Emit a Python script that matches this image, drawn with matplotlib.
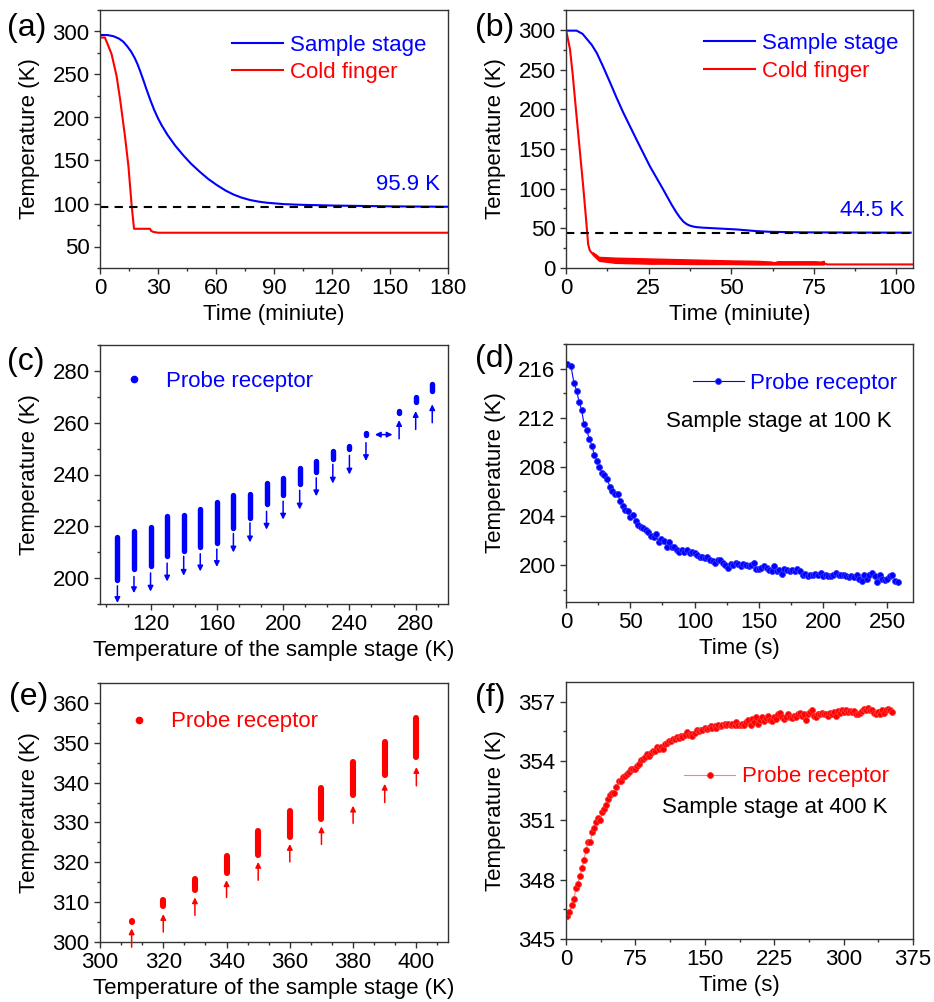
import matplotlib
matplotlib.use("Agg")
import matplotlib.pyplot as plt
from matplotlib.ticker import MultipleLocator
from matplotlib.lines import Line2D

plt.rcParams['font.family'] = ['Liberation Sans', 'DejaVu Sans']

BLUE = '#0000FF'
RED = '#FF0000'

# ---------------- data ----------------
# (a)
a_stage_t = [0, 4, 7, 10, 12.1, 14, 16, 18, 19.5, 21, 22.5, 24, 26, 28, 30, 32, 35, 39, 43.1, 47, 51.8, 56,
             60.4, 65, 69, 73, 77.7, 82, 86.3, 95, 103.6, 120.8, 150, 180]
a_stage_T = [296, 295.8, 294.5, 291.5, 288, 283, 277, 269, 261.5, 252.5, 243, 233, 220.5, 209, 199, 190.5, 179.5, 167,
             156, 146.5, 136.5, 128.5, 121.5, 115, 110.5, 107, 104, 102.2, 100.9, 99.3, 98.5, 97.6, 96.7, 96.2]
a_cold_t = [0, 2.5, 4, 6, 8.6, 10.4, 12.9, 14.7, 16.4, 17.6, 25.9, 26.5, 27.6, 30, 180]
a_cold_T = [293, 293, 285, 273.6, 248, 221, 178.5, 143.6, 97, 70.6, 70.6, 68, 67, 66, 66]
a_final = 95.9

# (b)
b_stage_t = [0, 3.2, 5, 6.2, 7.8, 9.3, 11.3, 13.3, 15.3, 17.3, 21.3, 25.4, 29.4, 32, 33.4, 34.5, 35.5, 36.5, 37.4,
             38.5, 39.5, 41.4, 46, 51.5, 57.5, 61.6, 71.6, 85, 104.3]
b_stage_T = [299, 299, 295, 289, 281, 271, 253, 234, 214.5, 196, 162, 128, 99, 79.5, 70, 63.5, 58.5, 55.3, 53.5,
             52.2, 51.5, 50.8, 49.8, 48.6, 46.5, 45.6, 44.9, 44.7, 44.5]
b_cold_t = [0, 1.2, 2.0, 3.2, 4.2, 5.2, 6.0, 6.7, 7.2, 8.0, 9.0, 10.0, 15, 25, 40, 50, 60, 70, 78, 79, 105]
b_cold_T = [300, 276, 245, 191, 147, 103, 65, 30, 22, 18, 16, 12, 9.5, 9, 8, 7, 6.5, 6, 6, 4.5, 4.5]
b_band_t = [8, 10, 15, 20, 25, 30, 40, 50, 58, 60, 62, 63, 64, 70, 75, 77, 78]
b_band_hi = [20, 14, 13, 12.5, 12, 11.5, 10.5, 9.5, 9, 8.5, 8, 7, 8.5, 8.5, 8.5, 8, 9]
b_band_lo = [17, 9, 6.5, 6, 5.5, 5.5, 5, 5, 4.5, 4.5, 4.5, 4.5, 4.5, 4.5, 4.5, 4.5, 4.5]
b_final = 44.5

# (c)
c_stage = [100, 110, 120, 130, 140, 150, 160, 170, 180, 190, 200, 210, 220, 230, 240, 250, 260, 270, 280, 290]
c_low = [199.1, 203.6, 204.5, 208.4, 210.4, 212.0, 213.5, 219.5, 223.3, 228.5, 232.0, 236.5,
         241.0, 245.8, 250.0, 255.2, 259.7, 263.8, 268.1, 272.2]
c_high = [215.8, 218.1, 219.6, 223.9, 224.4, 226.7, 229.3, 231.9, 232.5, 236.8, 238.6, 242.5,
          245.1, 248.9, 250.9, 256.2, 259.7, 264.4, 270.0, 275.1]
c_arrow_x = [100, 110, 120, 130, 140, 150, 160, 170, 180, 190, 200, 210, 220, 230, 240, 250, 270, 280, 290]
c_arrow_from = [197, 200.6, 202, 205.8, 208.4, 209.4, 211.2, 217.2, 221.3, 225.8, 229.7, 233.9,
                238.7, 243.9, 247.4, 252.3, 253.8, 257.4, 260]
c_arrow_to = [190.4, 194.2, 194.8, 198.7, 200.9, 202.6, 204.3, 209.9, 213.8, 218.7, 222.6, 226.5,
              231.6, 236.5, 240, 245.2, 261, 264.5, 267.1]
c_harrow_x = [255.4, 266.0]
c_harrow_y = 255.4

# (d)
d_t = [1, 3.9, 6.2, 8.3, 10.1, 12.2, 14, 16, 18.1, 20.2, 22, 24.1, 25.9, 28, 29.8, 31.9, 34.2, 36, 38.1, 40.2,
       42, 44, 46.1, 48, 50, 52.1, 54.1, 56, 58, 60.1, 62.2, 64, 66, 68.1, 70, 72, 74.1, 76.2, 78.2, 80,
       82.1, 84.2, 86, 88, 90.2, 92.2, 94, 96.1, 98.2, 100.3, 102, 104.1, 106.2, 108, 110.1, 112.2, 114.2, 116.1, 118.1, 120.2,
       122.3, 124.1, 126.2, 128.2, 130, 132.1, 134.2, 136.3, 138.1, 140.2, 142.2, 144.3, 146.1, 148.2, 150.3, 152.1, 154.1, 156.2, 158, 160.1,
       161.9, 164, 166.1, 168.1, 170, 172, 174.1, 176.2, 178, 180, 182.1, 184.2, 186, 188.1, 190.2, 192.2, 194, 196.1, 198.2, 200,
       202.1, 204.1, 206.2, 208, 210.1, 212.2, 214, 216, 218.1, 220.2, 222, 224.1, 226.2, 228, 230, 232.1, 233.9, 236, 238.1, 240.2,
       242, 244, 246.1, 248, 250, 252.1, 253.9, 256, 258]
d_T = [216.4, 216.2, 214.8, 214.2, 213.3, 212.6, 211.5, 211.0, 210.3, 209.7, 209.0, 208.5, 208.0, 207.5, 207.3, 207.0, 206.4, 206.0, 205.8, 205.8,
       205.2, 204.8, 204.5, 204.4, 203.9, 204.1, 203.6, 203.3, 203.1, 203.0, 202.9, 202.7, 202.4, 202.3, 202.5, 201.9, 202.1, 202.0, 201.5, 201.9,
       201.5, 201.5, 201.2, 201.1, 201.2, 201.1, 201.2, 201.0, 201.1, 201.0, 200.8, 200.7, 200.7, 200.6, 200.7, 200.4, 200.3, 200.2, 200.4, 200.4,
       200.2, 200.0, 199.8, 200.1, 200.0, 200.2, 200.1, 199.9, 200.1, 200.0, 199.9, 200.0, 200.2, 199.7, 199.7, 199.8, 199.9, 199.8, 199.6, 199.5,
       199.9, 199.5, 199.6, 199.3, 199.7, 199.6, 199.5, 199.6, 199.5, 199.7, 199.5, 199.2, 199.3, 199.1, 199.2, 199.2, 199.3, 199.2, 199.4, 199.1,
       199.2, 199.1, 199.1, 199.2, 199.4, 199.2, 199.2, 199.2, 199.1, 199.0, 199.1, 199.0, 199.2, 198.9, 198.7, 199.2, 198.9, 199.2, 199.4, 199.1,
       198.6, 199.2, 198.9, 198.8, 198.9, 199.1, 199.2, 198.7, 198.6]

# (e)
e_stage = [310, 320, 330, 340, 350, 360, 370, 380, 390, 400]
e_low = [304.95, 309.15, 313.15, 317.35, 321.75, 326.35, 330.95, 336.85, 341.85, 346.45]
e_high = [305.35, 310.55, 315.85, 321.55, 327.75, 332.85, 338.65, 345.15, 350.25, 356.15]
e_arrow_from = [298.7, 302.5, 306.7, 311.2, 315.5, 320.1, 324.5, 329.8, 335.0, 339.2]
e_arrow_to = [303.4, 307.0, 311.2, 315.5, 320.1, 324.6, 329.0, 334.2, 339.7, 343.9]

# (f)
f_t = [1.4, 3.6, 6.1, 8.6, 10.8, 12.6, 15.1, 17.3, 19.4, 21.6, 23.7, 26.3, 28.4, 30.6, 32.7, 34.9, 37.1, 39.2, 41.4, 43.5,
       45.7, 47.9, 50, 52.2, 54.3, 56.9, 59, 61.2, 63.3, 65.5, 67.7, 69.8, 72, 74.1, 76.3, 78.4, 80.6, 82.8, 84.9, 87.1,
       89.2, 91.4, 93.6, 95.7, 97.9, 100, 102.2, 104.4, 106.5, 108.7, 110.8, 113, 115.1, 117.3, 119.5, 121.6, 123.8, 125.9, 128.1, 130.3,
       132.4, 134.6, 136.7, 138.9, 141.1, 143.2, 145.4, 147.5, 149.7, 151.9, 154, 156.2, 158.3, 160.5, 162.6, 164.8, 167, 169.1, 171.3, 173.4,
       175.6, 177.8, 179.9, 182.1, 184.2, 186.4, 188.6, 190.7, 192.9, 195, 197.2, 199.4, 201.5, 203.7, 205.8, 208, 210.1, 212.3, 214.5, 216.6,
       218.8, 220.9, 223.1, 225.3, 227.4, 229.6, 231.7, 233.9, 236.1, 238.2, 240.4, 242.5, 244.7, 246.9, 249, 251.2, 253.3, 255.5, 257.6, 259.8,
       262, 264.1, 266.3, 268.4, 270.6, 272.8, 274.9, 277.1, 279.2, 281.4, 283.6, 285.7, 287.9, 290, 292.2, 294.4, 296.5, 298.7, 300.8, 303,
       305.1, 307.3, 309.5, 311.6, 313.8, 315.9, 318.1, 320.3, 322.4, 324.6, 326.7, 328.9, 331.1, 333.2, 335.4, 337.5, 339.7, 341.9, 344, 346.2,
       348.3, 350.5, 352.7]
f_T = [346.15, 346.35, 346.7, 347.0, 347.6, 347.8, 348.2, 348.6, 349.0, 349.5, 349.9, 349.9, 350.4, 350.6, 350.9, 351.1, 351.0, 351.4, 351.6, 351.8,
       352.1, 352.3, 352.4, 352.4, 352.7, 353.0, 353.0, 353.2, 353.25, 353.35, 353.45, 353.6, 353.6, 353.6, 353.75, 353.85, 354.05, 354.1, 354.2, 354.35,
       354.25, 354.4, 354.5, 354.5, 354.7, 354.6, 354.7, 354.6, 354.85, 354.9, 355.0, 355.0, 355.1, 355.1, 355.2, 355.15, 355.25, 355.2, 355.3, 355.45,
       355.3, 355.35, 355.25, 355.4, 355.55, 355.5, 355.55, 355.55, 355.65, 355.6, 355.65, 355.75, 355.65, 355.75, 355.65, 355.8, 355.75, 355.85, 355.9, 355.8,
       355.9, 355.8, 355.9, 355.85, 356.0, 355.85, 355.8, 355.9, 355.85, 356.0, 356.1, 355.8, 356.15, 356.0, 356.25, 355.9, 356.1, 356.25, 356.05, 356.2,
       356.3, 356.1, 356.05, 356.25, 356.15, 356.4, 356.45, 356.25, 356.15, 356.25, 356.4, 356.25, 356.2, 356.3, 356.25, 356.4, 356.45, 356.3, 356.4, 356.1,
       356.4, 356.5, 356.6, 356.3, 356.25, 356.4, 356.4, 356.45, 356.4, 356.4, 356.3, 356.45, 356.4, 356.5, 356.3, 356.55, 356.45, 356.6, 356.5, 356.6,
       356.5, 356.55, 356.5, 356.55, 356.4, 356.4, 356.45, 356.55, 356.65, 356.6, 356.7, 356.6, 356.6, 356.45, 356.4, 356.5, 356.4, 356.6, 356.45, 356.6,
       356.65, 356.6, 356.5]

# ---------------- figure ----------------
W, H = 934, 1002
fig = plt.figure(figsize=(W / 100, H / 100), dpi=100)

FS = 16


def ax_at(l, t, r, b):
    return fig.add_axes([l / W, 1 - b / H, (r - l) / W, (b - t) / H])


def style(ax, xmaj, xmin, ymaj, ymin):
    ax.xaxis.set_major_locator(MultipleLocator(xmaj))
    ax.xaxis.set_minor_locator(MultipleLocator(xmin))
    ax.yaxis.set_major_locator(MultipleLocator(ymaj))
    ax.yaxis.set_minor_locator(MultipleLocator(ymin))
    ax.tick_params(which='both', direction='out', top=False, right=False,
                   width=1, color='#333333', labelsize=FS, labelcolor='black')
    ax.tick_params(which='major', length=4.5, pad=3)
    ax.tick_params(which='minor', length=2.5)
    for s in ax.spines.values():
        s.set_linewidth(1.0)
        s.set_color('#333333')


def labels(ax, xl):
    ax.set_xlabel(xl, fontsize=FS, labelpad=3)
    ax.set_ylabel('Temperature (K)', fontsize=FS, labelpad=9)


def panel_label(x, y, s):
    fig.text(x / W, 1 - y / H, s, fontsize=23, va='center', ha='left')


LEG = dict(loc='upper left', frameon=False, fontsize=FS, handlelength=2.3, handletextpad=0.3,
           borderpad=0, borderaxespad=0)

# (a)
ax = ax_at(100, 10, 448, 268)
ax.plot(a_stage_t, a_stage_T, color=BLUE, lw=1.5, label='Sample stage')
ax.plot(a_cold_t, a_cold_T, color=RED, lw=1.5, label='Cold finger')
ax.axhline(a_final, color='black', lw=1.5, ls=(0, (4, 3)))
ax.text(176, 122, '%.1f K' % a_final, color=BLUE, fontsize=FS, ha='right', va='center')
ax.set_xlim(0, 180)
ax.set_ylim(25, 325)
style(ax, 30, 15, 50, 25)
labels(ax, 'Time (miniute)')
ax.legend(bbox_to_anchor=(0.379, 0.905), labelspacing=0.3, labelcolor='linecolor', **LEG)
panel_label(7, 28, '(a)')

# (b)
ax = ax_at(566, 10, 913, 268)
ax.plot(b_stage_t, b_stage_T, color=BLUE, lw=1.5, label='Sample stage')
ax.plot(b_cold_t, b_cold_T, color=RED, lw=1.5, label='Cold finger')
ax.fill_between(b_band_t, b_band_lo, b_band_hi, color=RED, lw=1.0)
ax.axhline(b_final, color='black', lw=1.5, ls=(0, (4, 3)))
ax.text(102.4, 72, '%.1f K' % b_final, color=BLUE, fontsize=FS, ha='right', va='center')
ax.set_xlim(0, 105)
ax.set_ylim(0, 325)
style(ax, 25, 12.5, 50, 25)
labels(ax, 'Time (miniute)')
ax.legend(bbox_to_anchor=(0.398, 0.91), labelspacing=0.3, labelcolor='linecolor', **LEG)
panel_label(475, 28, '(b)')

# (c)
ax = ax_at(100, 345, 448, 604)
ax.vlines(c_stage, c_low, c_high, color=BLUE, lw=3.9, capstyle='round')
for x, y0, y1 in zip(c_arrow_x, c_arrow_from, c_arrow_to):
    ax.annotate('', xy=(x, y1), xytext=(x, y0),
                arrowprops=dict(arrowstyle='-|>', color=BLUE, lw=1.1, mutation_scale=8,
                                shrinkA=0, shrinkB=0))
ax.annotate('', xy=(c_harrow_x[1], c_harrow_y), xytext=(c_harrow_x[0], c_harrow_y),
            arrowprops=dict(arrowstyle='<|-|>', color=BLUE, lw=1.1, mutation_scale=8,
                            shrinkA=0, shrinkB=0))
ax.set_xlim(89.5, 299.5)
ax.set_ylim(190, 290)
style(ax, 40, 40 / 3, 20, 10)
labels(ax, 'Temperature of the sample stage (K)')
h = Line2D([], [], ls='none', marker='o', ms=4.5, color=BLUE)
ax.legend([h], ['Probe receptor'], bbox_to_anchor=(0.024, 0.9), labelcolor=BLUE, **LEG)
panel_label(7, 362, '(c)')

# (d)
ax = ax_at(566, 344, 913, 602)
ax.plot(d_t, d_T, color=BLUE, lw=0.8, marker='o', ms=4.3, mfc=BLUE, mec='#3a3aff', mew=0.6,
        label='Probe receptor')
ax.set_xlim(0, 270)
ax.set_ylim(197, 218)
style(ax, 50, 25, 4, 2)
labels(ax, 'Time (s)')
ax.legend(bbox_to_anchor=(0.365, 0.888), labelcolor=BLUE, **LEG)
ax.text(0.9386, 0.7, 'Sample stage at 100 K', transform=ax.transAxes, fontsize=FS,
        ha='right', va='center')
panel_label(475, 359, '(d)')

# (e)
ax = ax_at(100, 683, 448, 942)
ax.vlines(e_stage, e_low, e_high, color=RED, lw=4.4, capstyle='round')
for x, y0, y1 in zip(e_stage, e_arrow_from, e_arrow_to):
    ax.annotate('', xy=(x, y1), xytext=(x, y0), annotation_clip=False,
                arrowprops=dict(arrowstyle='-|>', color=RED, lw=1.1, mutation_scale=8,
                                shrinkA=0, shrinkB=0))
ax.set_xlim(300, 410)
ax.set_ylim(300, 365)
style(ax, 20, 20 / 3, 10, 5)
labels(ax, 'Temperature of the sample stage (K)')
h = Line2D([], [], ls='none', marker='o', ms=4.5, color=RED)
ax.legend([h], ['Probe receptor'], bbox_to_anchor=(0.039, 0.89), labelcolor=RED, **LEG)
panel_label(9, 697, '(e)')

# (f)
ax = ax_at(566, 682, 913, 939)
ax.plot(f_t, f_T, color='#ff8080', lw=0.8, marker='o', ms=4.3, mfc=RED, mec='#ff3a3a', mew=0.6,
        label='Probe receptor')
ax.set_xlim(0, 375)
ax.set_ylim(345, 358)
style(ax, 75, 37.5, 3, 1.5)
labels(ax, 'Time (s)')
ax.legend(bbox_to_anchor=(0.341, 0.672), labelcolor=RED, **LEG)
ax.text(0.926, 0.51, 'Sample stage at 400 K', transform=ax.transAxes, fontsize=FS,
        ha='right', va='center')
panel_label(475, 698, '(f)')

fig.savefig('out.png', dpi=100)
